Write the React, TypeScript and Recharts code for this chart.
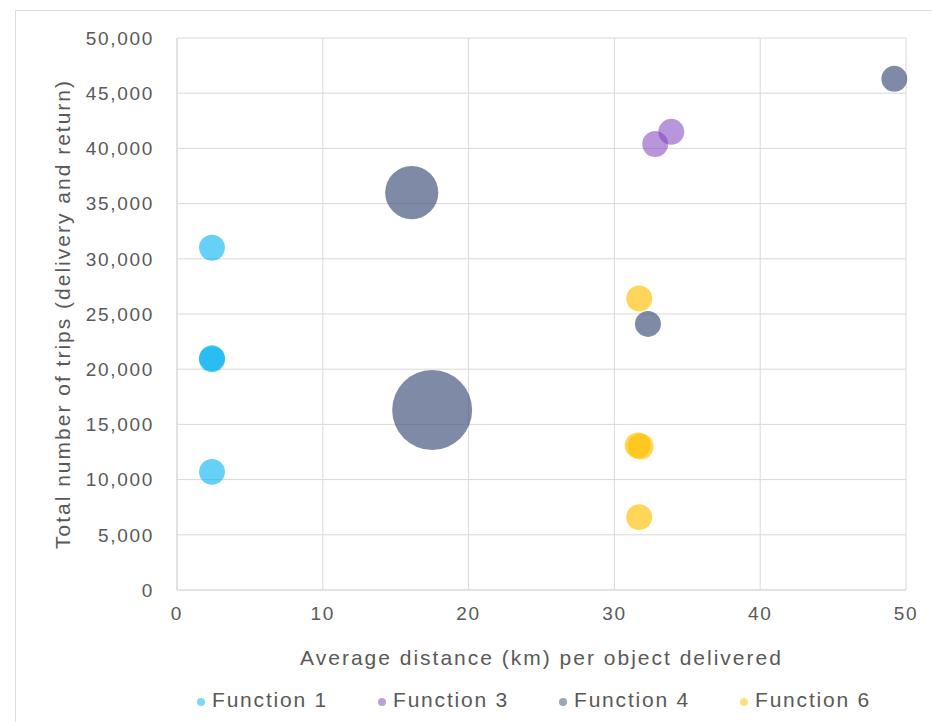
import { CartesianGrid, Legend, Scatter, ScatterChart, XAxis, YAxis, ZAxis } from "recharts";

// x = average km per object, y = total trips, z = bubble size
const function1 = [
  { x: 2.4, y: 31000, z: 1 },
  { x: 2.4, y: 21000, z: 1 },
  { x: 2.4, y: 20900, z: 1 },
  { x: 2.4, y: 10700, z: 1 }
];
const function3 = [
  { x: 32.8, y: 40400, z: 1 },
  { x: 33.9, y: 41500, z: 1 }
];
const function4 = [
  { x: 16.1, y: 36000, z: 4.2 },
  { x: 17.5, y: 16300, z: 9.5 },
  { x: 32.3, y: 24100, z: 1 },
  { x: 49.2, y: 46300, z: 1 }
];
const function6 = [
  { x: 31.7, y: 26400, z: 1 },
  { x: 31.6, y: 13100, z: 1 },
  { x: 31.8, y: 13000, z: 1 },
  { x: 31.7, y: 6600, z: 1 }
];

const xTicks = [0, 10, 20, 30, 40, 50];
const yTicks = [0, 5000, 10000, 15000, 20000, 25000, 30000, 35000, 40000, 45000, 50000];

const font = '"Liberation Sans", Arial, sans-serif';
const textColor = "#595959";
const gridColor = "#d9d9d9";
const tickStyle = { fill: textColor, fontSize: 19, fontFamily: font, letterSpacing: 1.7 };
const titleStyle = { fill: textColor, fontSize: 21, fontFamily: font, letterSpacing: 2 };

function LegendRow({ payload }: any) {
  return (
    <div style={{ display: "flex", paddingLeft: 197, fontFamily: font, fontSize: 21, letterSpacing: 1.8, color: textColor }}>
      {(payload ?? []).map((entry: any) => (
        <div key={entry.value} style={{ display: "flex", alignItems: "center", width: 181 }}>
          <span
            style={{
              display: "inline-block",
              width: 8,
              height: 8,
              borderRadius: 4,
              background: entry.color,
              opacity: 0.5,
              marginRight: 7,
              marginTop: 4
            }}
          />
          <span>{entry.value}</span>
        </div>
      ))}
    </div>
  );
}

export default function App() {
  return (
    <div style={{ position: "absolute", left: 0, top: 0, width: 932, height: 722, overflow: "hidden", background: "#fff" }}>
      <div
        style={{
          position: "absolute",
          left: 15,
          top: 10,
          width: 1000,
          height: 1000,
          borderLeft: "1px solid #dedede",
          borderTop: "1px solid #dedede"
        }}
      />
      <ScatterChart width={932} height={722} margin={{ top: 38, right: 26, bottom: 0, left: 0 }}>
        <CartesianGrid stroke={gridColor} />
        <XAxis
          type="number"
          dataKey="x"
          domain={[0, 50]}
          ticks={xTicks}
          height={132}
          stroke={gridColor}
          tickLine={false}
          tickSize={0}
          tickMargin={17}
          tick={tickStyle}
          label={{ value: "Average distance (km) per object delivered", position: "insideBottom", offset: 57, style: titleStyle }}
        />
        <YAxis
          type="number"
          dataKey="y"
          domain={[0, 50000]}
          ticks={yTicks}
          width={177}
          stroke={gridColor}
          tickLine={false}
          tickSize={0}
          tickMargin={23}
          tick={tickStyle}
          tickFormatter={(v: number) => v.toLocaleString("en-US")}
          label={{
            value: "Total number of trips (delivery and return)",
            angle: -90,
            position: "insideLeft",
            offset: 63,
            style: { ...titleStyle, textAnchor: "middle" }
          }}
        />
        <ZAxis type="number" dataKey="z" domain={[0, 10]} range={[0, 5291]} />
        <Legend verticalAlign="middle" content={<LegendRow />} wrapperStyle={{ top: 688, left: 0, width: 932, height: 30 }} />
        <Scatter name="Function 1" data={function1} fill="#00b0f0" fillOpacity={0.6} isAnimationActive={false} />
        <Scatter name="Function 3" data={function3} fill="#7f3fbf" fillOpacity={0.55} isAnimationActive={false} />
        <Scatter name="Function 4" data={function4} fill="#3a4d76" fillOpacity={0.65} isAnimationActive={false} />
        <Scatter name="Function 6" data={function6} fill="#ffc000" fillOpacity={0.65} isAnimationActive={false} />
      </ScatterChart>
    </div>
  );
}
